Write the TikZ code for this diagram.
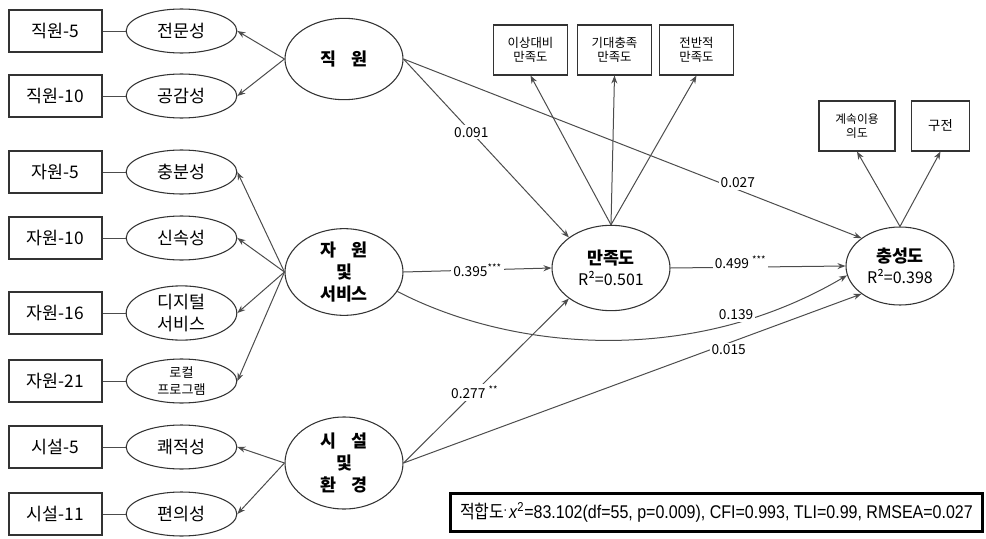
\documentclass[tikz,border=0pt]{standalone}
\usepackage{graphicx}
\usepackage{fontspec}
\setmainfont{Noto Sans CJK KR}
\newfontfamily\fitfont{Liberation Sans}
\usetikzlibrary{shapes.geometric,arrows.meta}

\tikzset{
    mvar/.style={draw=black!80, line width=0.8pt, minimum width=69.75pt, minimum height=31.5pt, inner sep=0pt, font=\fontsize{13}{15}\selectfont},
    ind/.style={ellipse, draw=black!80, line width=0.8pt, minimum width=83pt, minimum height=33pt, inner sep=0pt, align=center, font=\fontsize{13}{17}\selectfont},
    lat/.style={ellipse, draw=black!80, line width=0.8pt, minimum width=88.5pt, minimum height=65pt, inner sep=0pt, align=center, font=\bfseries\fontsize{13}{16.5}\selectfont},
    topbox/.style={draw=black!80, line width=0.8pt, minimum width=56pt, minimum height=37.5pt, inner sep=0pt, align=center, font=\fontsize{9.3}{11}\selectfont},
    ln/.style={draw=black!70, line width=0.75pt},
    arr/.style={draw=black!70, line width=0.75pt, -{Stealth[length=6pt,width=4.5pt]}},
    coef/.style={fill=white, inner sep=1.5pt, font=\fontsize{10.3}{12}\selectfont},
}

\begin{document}
\begin{tikzpicture}[x=0.75pt,y=-0.75pt]
    \useasboundingbox (0,0) rectangle (986,539);

    % observed items
    \node[mvar] (b1) at (55.5,31) {직원-5};
    \node[mvar] (b2) at (55.5,96) {직원-10};
    \node[mvar] (b3) at (55.5,172) {자원-5};
    \node[mvar] (b4) at (55.5,238) {자원-10};
    \node[mvar] (b5) at (55.5,313) {자원-16};
    \node[mvar] (b6) at (55.5,381) {자원-21};
    \node[mvar] (b7) at (55.5,447) {시설-5};
    \node[mvar] (b8) at (55.5,514) {시설-11};

    % first order factors
    \node[ind] (e1) at (181.5,31) {전문성};
    \node[ind] (e2) at (181.5,96) {공감성};
    \node[ind] (e3) at (181.5,172) {충분성};
    \node[ind] (e4) at (181.5,238) {신속성};
    \node[ind] (e5) at (181.5,313) {디지털\\서비스};
    \node[ind, font=\fontsize{9.8}{13}\selectfont] (e6) at (181.5,381) {로컬\\프로그램};
    \node[ind] (e7) at (181.5,447) {쾌적성};
    \node[ind] (e8) at (181.5,514) {편의성};

    \draw[ln] (b1) -- (e1);
    \draw[ln] (b2) -- (e2);
    \draw[ln] (b3) -- (e3);
    \draw[ln] (b4) -- (e4);
    \draw[ln] (b5) -- (e5);
    \draw[ln] (b6) -- (e6);
    \draw[ln] (b7) -- (e7);
    \draw[ln] (b8) -- (e8);

    % latent variables
    \node[lat, minimum height=61pt] (jw) at (344,59) {직\hspace{0.9em}원};
    \node[lat] (jr) at (344,272) {자\hspace{0.9em}원\\및\\서비스};
    \node[lat, minimum height=69pt] (sf) at (344,463) {시\hspace{0.9em}설\\및\\환\hspace{0.9em}경};
    \node[lat, minimum height=64pt] (mj) at (611,268) {만족도\\[-1pt]{\mdseries\fontsize{12}{14}\selectfont R²=0.501}};
    \node[lat, minimum width=81pt, minimum height=58.5pt] (cs) at (900,266) {충성도\\[-1pt]{\mdseries\fontsize{12}{14}\selectfont R²=0.398}};

    \draw[arr] (jw.west) -- (e1.east);
    \draw[arr] (jw.west) -- (e2.east);
    \draw[arr] (jr.west) -- (e3.east);
    \draw[arr] (jr.west) -- (e4.east);
    \draw[arr] (jr.west) -- (e5.east);
    \draw[arr] (jr.west) -- (e6.east);
    \draw[arr] (sf.west) -- (e7.east);
    \draw[arr] (sf.west) -- (e8.east);

    % outcome indicators
    \node[topbox] (t1) at (530.5,50) {이상대비\\만족도};
    \node[topbox] (t2) at (614.5,50) {기대충족\\만족도};
    \node[topbox] (t3) at (696.5,50) {전반적\\만족도};
    \node[topbox, minimum width=57pt, font=\fontsize{8.8}{10.5}\selectfont] (u1) at (857,126) {계속이용\\의도};
    \node[topbox, minimum width=44pt, font=\fontsize{10}{12}\selectfont] (u2) at (940.5,126) {구전};

    \draw[arr] (mj.north) -- (t1.south);
    \draw[arr] (mj.north) -- (t2.south);
    \draw[arr] (mj.north) -- (t3.south);
    \draw[arr] (cs.north) -- (u1.south);
    \draw[arr] (cs.north) -- (u2.south);

    % structural paths
    \draw[arr] (jw.east) -- node[coef, pos=0.41] {0.091} (mj.north west);
    \draw[arr] (jw.east) -- node[coef, pos=0.73, yshift=5pt] {0.027} (cs.north west);
    \draw[arr] (jr.east) -- node[coef, pos=0.5] {0.395\textsuperscript{***}} (mj.west);
    \draw[arr] (mj.east) -- node[coef, pos=0.4, yshift=4pt] {0.499 \textsuperscript{***}} (cs.west);
    \draw[arr] (jr.-20) .. controls (510,350) and (690,368) .. (cs.190) node[coef, pos=0.77, yshift=6pt] {0.139};
    \draw[arr] (sf.east) -- node[coef, pos=0.43] {0.277 \textsuperscript{**}} (mj.south west);
    \draw[arr] (sf.east) -- node[coef, pos=0.71, yshift=-5pt] {0.015} (cs.south west);

    % fit indices
    \node[draw=black, line width=1.6pt, minimum width=399pt, minimum height=28.5pt, inner sep=0pt] (fit) at (716.5,512.5)
        {\scalebox{0.87}[1]{\fontsize{13.8}{15}\selectfont 적합도\raisebox{0.6ex}{\tiny•}\,\fitfont\textit{x}\textsuperscript{2}=83.102(df=55, p=0.009), CFI=0.993, TLI=0.99, RMSEA=0.027}};

\end{tikzpicture}
\end{document}
